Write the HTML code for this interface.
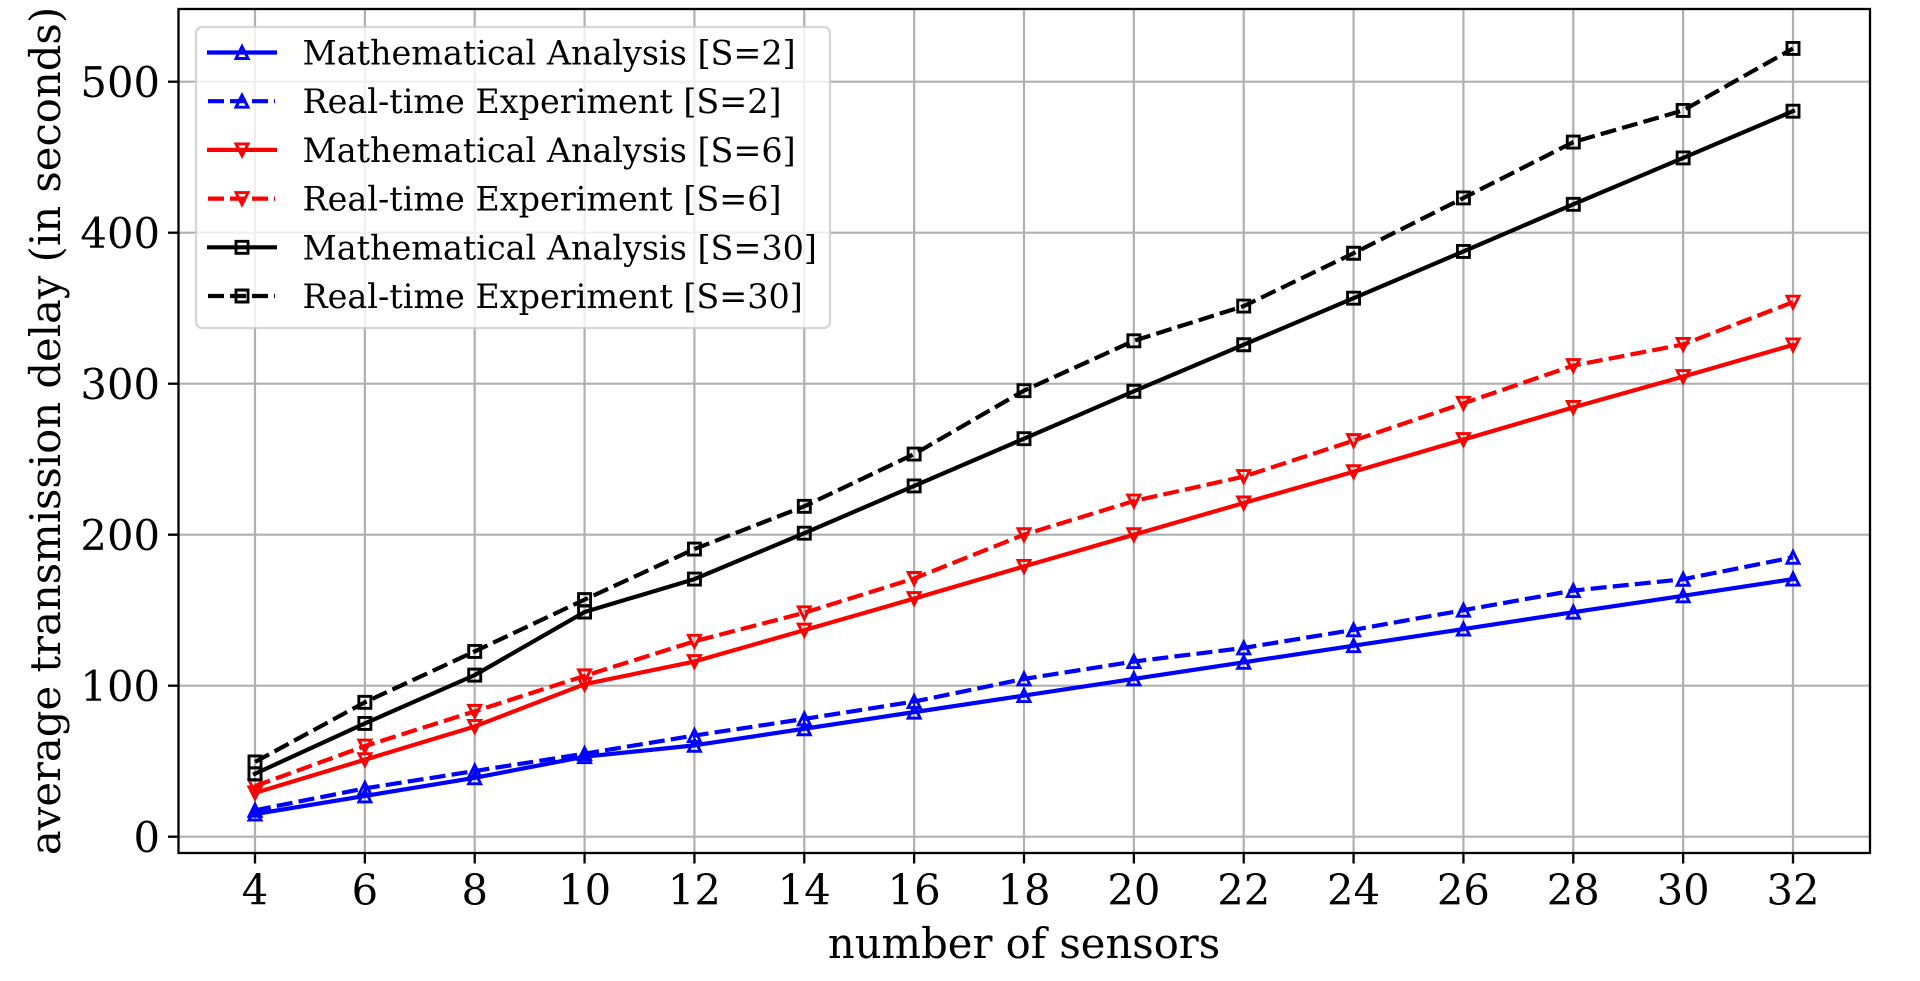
<!DOCTYPE html>
<html lang="en">
<head>
<meta charset="utf-8">
<title>Average transmission delay vs number of sensors</title>
<style>
html,body{margin:0;padding:0;background:#fff;width:1920px;height:981px;overflow:hidden}
svg{display:block}
text{font-family:"DejaVu Serif",serif;fill:#000}
</style>
</head>
<body>
<svg id="chart" xmlns="http://www.w3.org/2000/svg" width="1920" height="981" viewBox="0 0 1920 981"></svg>
<script>
const xTicks = [4,6,8,10,12,14,16,18,20,22,24,26,28,30,32];
const yTicks = [0,100,200,300,400,500];
const seriesLabels = ['Mathematical Analysis [S=2]','Real-time Experiment [S=2]','Mathematical Analysis [S=6]','Real-time Experiment [S=6]','Mathematical Analysis [S=30]','Real-time Experiment [S=30]'];
const seriesColors = ['#0000ff','#0000ff','#ff0000','#ff0000','#000000','#000000'];
const seriesMarkers = ['up','up','down','down','square','square'];
const seriesDashed = [false,true,false,true,false,true];
const mathS2 = [15,27,39,53,60.5,71.5,82.5,93.5,104.5,115.5,126.5,137.5,148.7,159.5,170.6];
const realS2 = [17.5,32,43.5,55,67,78,89.5,104.5,116,125,137,150,163,170.5,185];
const mathS6 = [29,51,73,101,116,136.8,157.7,179,200,221,241.7,263,284.3,304.7,325.7];
const realS6 = [33.5,60,83,106.5,129.4,148.3,171,200,222.3,238.5,262.3,287,312,326,354];
const mathS30 = [41.7,75,107,148.8,170.6,201,232.3,263.6,295,325.8,356.6,387.6,418.8,449.5,480.5];
const realS30 = [49.5,89,122.7,157,190.5,218.8,253.4,295.4,328.4,351.4,386.4,423,460,481,522];
const seriesValues = [mathS2,realS2,mathS6,realS6,mathS30,realS30];

const NS='http://www.w3.org/2000/svg';
const svg=document.getElementById('chart');
const L=178.5,R=1870,T=9,B=853;
function xScale(v){return 255+(v-4)*(1793-255)/28;}
function yScale(v){return 836.7-v*1.51;}
function mk(tag,attrs,parent){
  const e=document.createElementNS(NS,tag);
  for(const k in attrs)e.setAttribute(k,attrs[k]);
  (parent||svg).appendChild(e);
  return e;
}
function markerPts(kind,cx,cy){
  const h=6;
  if(kind==='up')return [[cx,cy-h],[cx-h,cy+h],[cx+h,cy+h]];
  if(kind==='down')return [[cx,cy+h],[cx-h,cy-h],[cx+h,cy-h]];
  return [[cx-h,cy-h],[cx+h,cy-h],[cx+h,cy+h],[cx-h,cy+h]];
}
function ptsStr(p){return p.map(a=>a[0].toFixed(2)+','+a[1].toFixed(2)).join(' ');}
function drawMarker(group,kind,color,cx,cy){
  const s=mk('polygon',{points:ptsStr(markerPts(kind,cx,cy)),fill:'none',stroke:color,'stroke-width':2.9,'stroke-linejoin':'miter'},group);
  
  
}

// background axes rect
const plotBg=mk('rect',{x:L,y:T,width:R-L,height:B-T,fill:'#fff'});



// grid
const gridG=mk('g',{stroke:'#b0b0b0','stroke-width':2.2});


xTicks.forEach(t=>{
  const l=mk('line',{x1:xScale(t),x2:xScale(t),y1:T,y2:B},gridG);
  
  
});
yTicks.forEach(t=>{
  const l=mk('line',{x1:L,x2:R,y1:yScale(t),y2:yScale(t)},gridG);
  
  
});

// series
seriesValues.forEach((vals,i)=>{
  const g=mk('g',{});
  
  
  const pts=vals.map((v,j)=>[xScale(xTicks[j]),yScale(v)]);
  const line=mk('polyline',{points:ptsStr(pts),fill:'none',stroke:seriesColors[i],'stroke-width':4.2,'stroke-linejoin':'round','stroke-linecap':seriesDashed[i]?'butt':'square'},g);
  if(seriesDashed[i])line.setAttribute('stroke-dasharray','16 6.2');
  
  
  pts.forEach(p=>drawMarker(g,seriesMarkers[i],seriesColors[i],p[0],p[1]));
});

// spines
const spines=mk('rect',{x:L,y:T,width:R-L,height:B-T,fill:'none',stroke:'#000','stroke-width':2.3});



// ticks and tick labels
const xAxis=mk('g',{});


xTicks.forEach(t=>{
  const m=mk('line',{x1:xScale(t),x2:xScale(t),y1:B,y2:B+10.5,stroke:'#000','stroke-width':2.3},xAxis);
  
  
  const s=mk('text',{x:xScale(t),y:904.5,'text-anchor':'middle','font-size':41.7},xAxis);
  s.textContent=t;
  
  
});
const yAxis=mk('g',{});


yTicks.forEach(t=>{
  const m=mk('line',{x1:L-10.5,x2:L,y1:yScale(t),y2:yScale(t),stroke:'#000','stroke-width':2.3},yAxis);
  
  
  const s=mk('text',{x:160,y:yScale(t)+15.2,'text-anchor':'end','font-size':41.7},yAxis);
  s.textContent=t;
  
  
});

// axis titles
const xTitle=mk('text',{x:1024,y:958,'text-anchor':'middle','font-size':41.7});
xTitle.textContent='number of sensors';


const yTitle=mk('text',{transform:'translate(60,431) rotate(-90)','text-anchor':'middle','font-size':41.7});
yTitle.textContent='average transmission delay (in seconds)';



// legend
const legend=mk('g',{});


const frame=mk('rect',{x:196,y:27,width:634,height:301,rx:6,ry:6,fill:'#fff','fill-opacity':0.8,stroke:'#ccc','stroke-opacity':0.8,'stroke-width':2.3},legend);


seriesLabels.forEach((label,i)=>{
  const y=52.5+i*48.7;
  const e=mk('g',{},legend);
  
  
  const h=mk('line',{x1:seriesDashed[i]?208:207,x2:seriesDashed[i]?275:277,y1:y,y2:y,stroke:seriesColors[i],'stroke-width':4.2},e);
  if(seriesDashed[i])h.setAttribute('stroke-dasharray','16 6');
  
  
  drawMarker(e,seriesMarkers[i],seriesColors[i],242,y);
  const t=mk('text',{x:302.5,y:y+12,'font-size':33.4},e);
  t.textContent=label;
  
  
});
</script>
</body>
</html>
